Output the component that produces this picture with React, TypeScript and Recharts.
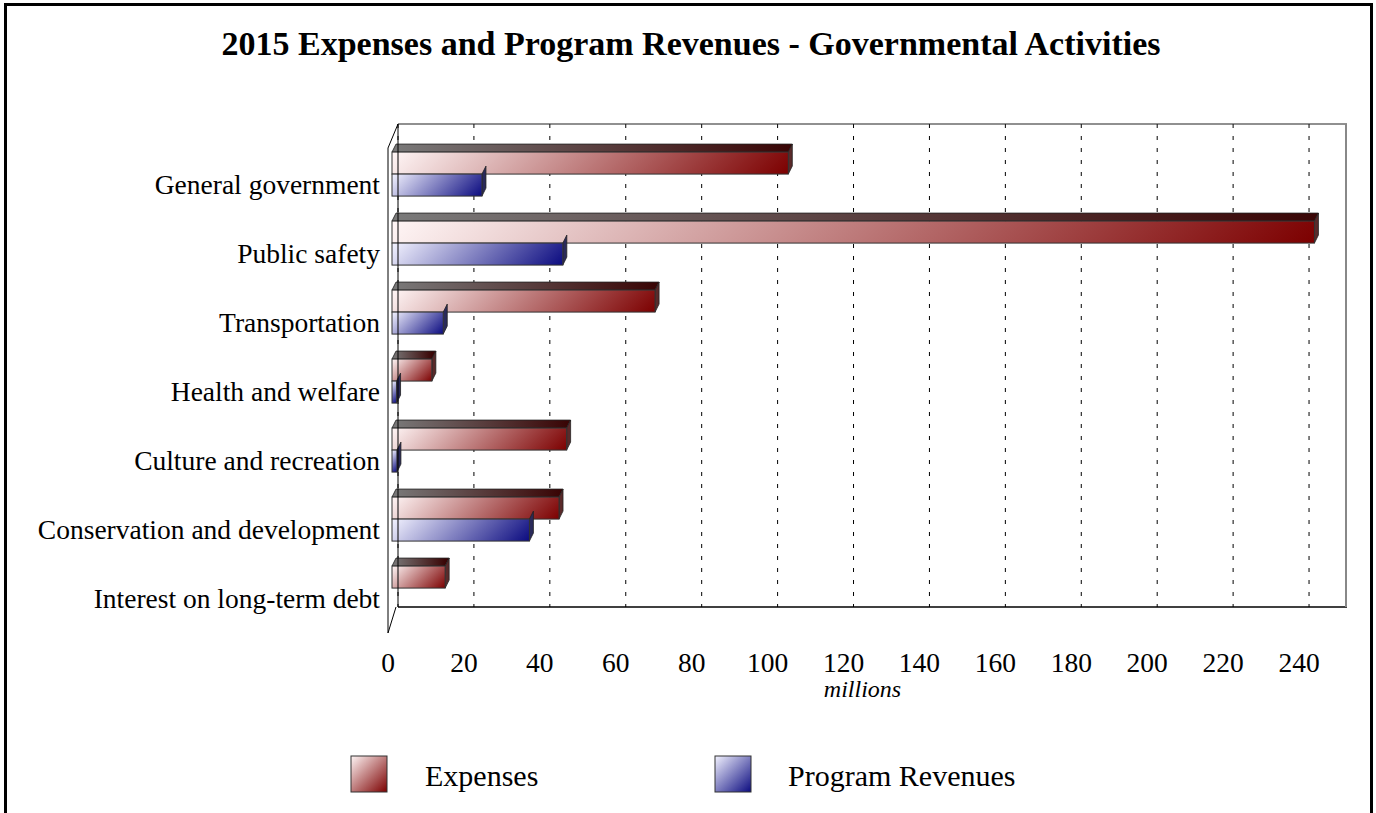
import { BarChart, Bar, XAxis, YAxis, CartesianGrid } from "recharts";

const categories = [
  "General government",
  "Public safety",
  "Transportation",
  "Health and welfare",
  "Culture and recreation",
  "Conservation and development",
  "Interest on long-term debt",
];
const expenses = [104.4, 243.0, 69.3, 10.5, 46.0, 44.0, 14.0];
const programRevenues = [23.7, 45.0, 13.5, 1.2, 1.3, 36.2, 0];
const xTicks = [0, 20, 40, 60, 80, 100, 120, 140, 160, 180, 200, 220, 240];

const data = categories.map((name, i) => ({
  name,
  expenses: expenses[i],
  revenues: programRevenues[i],
}));

const W = 1376;
const H = 813;
// back plane of the 3d box
const PLOT = { left: 398, right: 1347, top: 124, bottom: 607 };
const XAXIS_H = 60;
const FONT = '"Liberation Serif", "Times New Roman", serif';

// bars sit a bit in front of the back plane
const BAR_SHIFT = { x: -6, y: 16 };
const DEPTH = { x: 4, y: -8 };

const RED = { light: "#fff6f6", dark: "#7c0000", top0: "#7a7a7a", top1: "#3a0606", side: "#5a2a2a" };
const BLUE = { light: "#f3f3ff", dark: "#0b0b80", top0: "#7a7a7a", top1: "#06063a", side: "#2a2a5a" };

const make3DBar = (kind: "exp" | "rev") => (props: any) => {
  const { x, y, width, height, index } = props;
  if (!width || width <= 0) return <g />;
  const c = kind === "exp" ? RED : BLUE;
  const bx = x + BAR_SHIFT.x;
  const by = y + BAR_SHIFT.y;
  const id = `${kind}-${index}`;
  const d = (width + height) / 2;
  const top = [
    [bx, by],
    [bx + DEPTH.x, by + DEPTH.y],
    [bx + width + DEPTH.x, by + DEPTH.y],
    [bx + width, by],
  ];
  const side = [
    [bx + width, by],
    [bx + width + DEPTH.x, by + DEPTH.y],
    [bx + width + DEPTH.x, by + height + DEPTH.y],
    [bx + width, by + height],
  ];
  const pts = (p: number[][]) => p.map((q) => q.join(",")).join(" ");
  return (
    <g>
      <defs>
        <linearGradient id={`f-${id}`} gradientUnits="userSpaceOnUse" x1={bx} y1={by} x2={bx + d} y2={by + d}>
          <stop offset="0" stopColor={c.light} />
          <stop offset="1" stopColor={c.dark} />
        </linearGradient>
        <linearGradient id={`t-${id}`} gradientUnits="userSpaceOnUse" x1={bx} y1={0} x2={bx + width} y2={0}>
          <stop offset="0" stopColor={c.top0} />
          <stop offset="1" stopColor={c.top1} />
        </linearGradient>
      </defs>
      {kind === "exp" && <polygon points={pts(top)} fill={`url(#t-${id})`} stroke="#222" strokeWidth={0.8} />}
      <polygon points={pts(side)} fill={c.side} stroke="#222" strokeWidth={0.8} />
      <rect x={bx} y={by} width={width} height={height} fill={`url(#f-${id})`} stroke="#333" strokeWidth={1} />
    </g>
  );
};

const CategoryTick = ({ x, y, payload }: any) => (
  <text x={x} y={y + 35} textAnchor="end" fontSize={27.5} fontFamily={FONT} fill="#000">
    {payload.value}
  </text>
);

const ValueTick = ({ x, y, payload }: any) => (
  <text x={x - 10} y={y + 65} textAnchor="middle" fontSize={27.5} fontFamily={FONT} fill="#000">
    {payload.value}
  </text>
);

const Swatch = ({ x, y, c, id }: any) => (
  <g>
    <defs>
      <linearGradient id={id} x1="0" y1="0" x2="1" y2="1">
        <stop offset="0" stopColor={c.light} />
        <stop offset="1" stopColor={c.dark} />
      </linearGradient>
    </defs>
    <rect x={x} y={y} width={36} height={36} fill={`url(#${id})`} stroke="#333" strokeWidth={1} />
  </g>
);

export default function App() {
  return (
    <div style={{ position: "absolute", left: 0, top: 0, width: W, height: H, overflow: "hidden", background: "#fff" }}>
      <div
        style={{
          position: "absolute",
          left: 4,
          top: 3,
          width: 1369,
          height: 840,
          border: "3px solid #000",
          boxSizing: "border-box",
        }}
      />
      <div style={{ position: "absolute", left: 0, top: 0 }}>
        <BarChart
          width={W}
          height={H}
          data={data}
          layout="vertical"
          margin={{ top: PLOT.top, right: W - PLOT.right, bottom: H - PLOT.bottom - XAXIS_H, left: 0 }}
          barCategoryGap="17.5%"
          barGap={0}
        >
          <CartesianGrid horizontal={false} stroke="#000" strokeDasharray="4 8" />
          <XAxis
            type="number"
            domain={[0, 250]}
            ticks={xTicks}
            height={XAXIS_H}
            tickLine={false}
            tickSize={0}
            tickMargin={0}
            axisLine={{ stroke: "#000", strokeWidth: 1.5 }}
            tick={<ValueTick />}
            label={{
              content: (p: any) => (
                <text
                  x={p.viewBox.x + p.viewBox.width / 2 - 10}
                  y={p.viewBox.y + 90}
                  textAnchor="middle"
                  fontSize={24}
                  fontStyle="italic"
                  fontFamily={FONT}
                  fill="#000"
                >
                  millions
                </text>
              ),
            }}
          />
          <YAxis
            type="category"
            dataKey="name"
            width={PLOT.left}
            tickLine={false}
            tickSize={0}
            tickMargin={18}
            axisLine={{ stroke: "#000", strokeWidth: 1 }}
            tick={<CategoryTick />}
          />
          <Bar dataKey="expenses" name="Expenses" fill="#9c2a2a" shape={make3DBar("exp")} isAnimationActive={false} />
          <Bar dataKey="revenues" name="Program Revenues" fill="#2a2a9c" shape={make3DBar("rev")} isAnimationActive={false} />
        </BarChart>
      </div>
      <svg width={W} height={H} style={{ position: "absolute", left: 0, top: 0, pointerEvents: "none" }}>
        <text x={691} y={55} textAnchor="middle" fontSize={34} fontWeight="bold" fontFamily={FONT} fill="#000">
          2015 Expenses and Program Revenues - Governmental Activities
        </text>
        {/* 3d frame */}
        <line x1={PLOT.left} y1={PLOT.top} x2={PLOT.right} y2={PLOT.top} stroke="#222" strokeWidth={1.2} />
        <rect x={PLOT.right - 2} y={PLOT.top} width={4} height={PLOT.bottom - PLOT.top} fill="#fff" />
        <line x1={PLOT.right - 1} y1={PLOT.top} x2={PLOT.right - 1} y2={PLOT.bottom} stroke="#888" strokeWidth={2} />
        <line x1={388} y1={148} x2={PLOT.left} y2={PLOT.top} stroke="#000" strokeWidth={1} />
        <line x1={388} y1={148} x2={388} y2={633} stroke="#000" strokeWidth={1} />
        <line x1={388} y1={633} x2={396} y2={PLOT.bottom} stroke="#000" strokeWidth={1} />
        {/* legend */}
        <Swatch x={351} y={756} c={RED} id="lg-exp" />
        <text x={425} y={786} fontSize={30} fontFamily={FONT} fill="#000">Expenses</text>
        <Swatch x={715} y={756} c={BLUE} id="lg-rev" />
        <text x={788} y={786} fontSize={30} fontFamily={FONT} fill="#000">Program Revenues</text>
      </svg>
    </div>
  );
}
